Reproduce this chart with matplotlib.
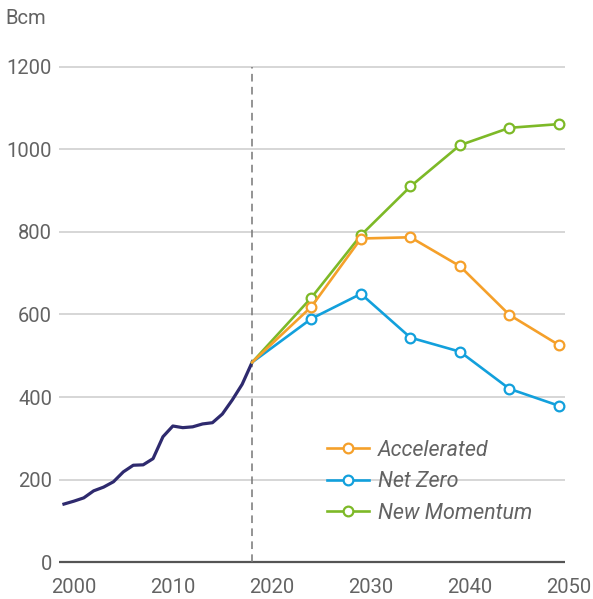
import matplotlib
matplotlib.use("Agg")
import matplotlib.pyplot as plt

plt.rcParams['font.family'] = ['Roboto', 'DejaVu Sans']

hist_years = list(range(1999, 2019))
hist_values = [141, 148, 156, 173, 182, 195, 219, 235, 236, 251,
               304, 330, 326, 328, 335, 338, 359, 393, 431, 484]

scen_years = [2018, 2024, 2029, 2034, 2039, 2044, 2049]
accelerated = [484, 619, 784, 787, 717, 599, 526]
net_zero = [484, 590, 650, 544, 510, 420, 379]
new_momentum = [484, 641, 792, 910, 1010, 1052, 1061]

x_ticks = [2000, 2010, 2020, 2030, 2040, 2050]
y_ticks = [0, 200, 400, 600, 800, 1000, 1200]

C_HIST = '#2E2A6E'
C_ACC = '#F5A02A'
C_NZ = '#12A0DC'
C_NM = '#7DB927'
TXT = '#636363'

fig = plt.figure(figsize=(5.93, 5.99), dpi=100)
W, H = 593, 599
left_px, right_px, top_px, bot_px = 59, 583.7, 66.7, 562.3
ax = fig.add_axes([left_px / W, 1 - bot_px / H, (right_px - left_px) / W, (bot_px - top_px) / H])
x0, x1 = 1998.5, 2051.5
xgrid_end = 2049.6
ax.set_xlim(x0, x1)
ax.set_ylim(0, 1200)

for s in ax.spines.values():
    s.set_visible(False)

# gridlines
ax.hlines(y_ticks[1:], x0, xgrid_end, colors='#d0d0d0', linewidth=1.2, zorder=1, clip_on=False)
ax.hlines(0, x0, xgrid_end, colors='#555555', linewidth=1.6, zorder=2, clip_on=False)
ax.vlines(2018, 0, 1200, colors='#777777', linewidth=1.1, linestyles=(0, (5, 3.5)), zorder=2)

ax.plot(hist_years, hist_values, color=C_HIST, linewidth=2.3, zorder=3)

mk = dict(marker='o', markersize=7, markerfacecolor='white', markeredgewidth=1.6, linewidth=1.9)
l_nm, = ax.plot(scen_years[1:], new_momentum[1:], color=C_NM, **mk, zorder=4, label='New Momentum')
ax.plot(scen_years[:2], new_momentum[:2], color=C_NM, linewidth=1.9, zorder=3.9)
l_nz, = ax.plot(scen_years[1:], net_zero[1:], color=C_NZ, **mk, zorder=4, label='Net Zero')
ax.plot(scen_years[:2], net_zero[:2], color=C_NZ, linewidth=1.9, zorder=3.9)
l_acc, = ax.plot(scen_years[1:], accelerated[1:], color=C_ACC, **mk, zorder=5, label='Accelerated')
ax.plot(scen_years[:2], accelerated[:2], color=C_ACC, linewidth=1.9, zorder=4.9)

ax.set_xticks(x_ticks)
ax.set_xticklabels([str(v) for v in x_ticks])
ax.set_yticks(y_ticks)
ax.set_yticklabels([str(v) for v in y_ticks])
ax.tick_params(axis='both', length=0, labelsize=14.5, labelcolor=TXT)
ax.tick_params(axis='x', pad=11)
ax.tick_params(axis='y', pad=5)

leg = ax.legend(handles=[l_acc, l_nz, l_nm], loc='upper left',
                bbox_to_anchor=((327 - left_px) / (right_px - left_px), (bot_px - 440) / (bot_px - top_px)),
                frameon=False, borderpad=0, borderaxespad=0, handlelength=1.95,
                handletextpad=0.4, labelspacing=0.48,
                prop=dict(size=15.5, style='italic'))
for t in leg.get_texts():
    t.set_color(TXT)

fig.text(5 / W, 1 - 18 / H, 'Bcm', fontsize=14.5, color=TXT, va='center', ha='left')

fig.savefig('out.png', dpi=100, facecolor='white')
